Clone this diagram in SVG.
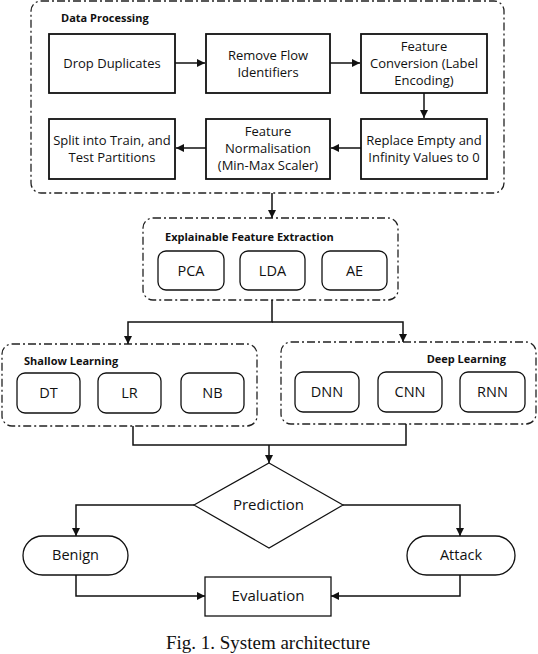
<svg xmlns="http://www.w3.org/2000/svg" width="538" height="654" viewBox="0 0 538 654">
<defs>
<style>
.grp{fill:none;stroke:#222;stroke-width:1.3;stroke-dasharray:8 3 2 3}
.box{fill:#fff;stroke:#111;stroke-width:1.8}
.rbox{fill:#fff;stroke:#111;stroke-width:1.3}
.t{font-family:"Open Sans","Noto Sans",sans-serif;font-size:13px;fill:#111;text-anchor:middle}
.tl{font-family:"Open Sans","Noto Sans",sans-serif;font-size:14.5px;fill:#111;text-anchor:middle}
.tb{font-family:"Open Sans","Noto Sans",sans-serif;font-size:11px;font-weight:bold;fill:#111}
.cap{font-family:"Liberation Serif",serif;font-size:19px;fill:#111;text-anchor:middle}
.c{fill:none;stroke:#111;stroke-width:1.5}
</style>
<marker id="a" markerUnits="userSpaceOnUse" markerWidth="8" markerHeight="8" refX="8" refY="4" orient="auto">
<path d="M0,0 L8,4 L0,8 z" fill="#111"/>
</marker>
</defs>
<rect width="538" height="654" fill="#fff"/>

<g id="data-processing">
<rect class="grp" x="31" y="1" width="473" height="192" rx="10"/>
<text class="tb" x="61" y="22">Data Processing</text>
</g>
<g id="drop-duplicates">
<rect class="box" x="49" y="34" width="126" height="59"/>
<text class="t" x="112" y="68">Drop Duplicates</text>
</g>
<g id="remove-flow">
<rect class="box" x="206" y="34" width="124" height="59"/>
<text class="t" x="268" y="60">Remove Flow</text>
<text class="t" x="268" y="77">Identifiers</text>
</g>
<g id="feature-conversion">
<rect class="box" x="361" y="34" width="126" height="59"/>
<text class="t" x="424" y="51">Feature</text>
<text class="t" x="424" y="68">Conversion (Label</text>
<text class="t" x="424" y="85">Encoding)</text>
</g>
<g id="replace-empty">
<rect class="box" x="361" y="119" width="126" height="60"/>
<text class="t" x="424" y="145">Replace Empty and</text>
<text class="t" x="424" y="162">Infinity Values to 0</text>
</g>
<g id="feature-normalisation">
<rect class="box" x="206" y="119" width="124" height="60"/>
<text class="t" x="268" y="136">Feature</text>
<text class="t" x="268" y="153">Normalisation</text>
<text class="t" x="268" y="170">(Min-Max Scaler)</text>
</g>
<g id="split">
<rect class="box" x="49" y="119" width="126" height="60"/>
<text class="t" x="112" y="145">Split into Train, and</text>
<text class="t" x="112" y="162">Test Partitions</text>
</g>

<g id="explainable">
<rect class="grp" x="143" y="218" width="255" height="82" rx="10"/>
<text class="tb" x="165" y="241">Explainable Feature Extraction</text>
</g>
<g id="pca"><rect class="rbox" x="158" y="251" width="66" height="39" rx="8"/><text class="tl" x="191" y="276">PCA</text></g>
<g id="lda"><rect class="rbox" x="240" y="251" width="65" height="39" rx="8"/><text class="tl" x="272.5" y="276">LDA</text></g>
<g id="ae"><rect class="rbox" x="322" y="251" width="65" height="39" rx="8"/><text class="tl" x="354.5" y="276">AE</text></g>

<g id="shallow">
<rect class="grp" x="2" y="344" width="255" height="82" rx="10"/>
<text class="tb" x="24" y="365">Shallow Learning</text>
</g>
<g id="dt"><rect class="rbox" x="17" y="373" width="63" height="40" rx="8"/><text class="tl" x="48.5" y="398">DT</text></g>
<g id="lr"><rect class="rbox" x="98" y="373" width="63" height="40" rx="8"/><text class="tl" x="129.5" y="398">LR</text></g>
<g id="nb"><rect class="rbox" x="181" y="373" width="63" height="40" rx="8"/><text class="tl" x="212.5" y="398">NB</text></g>

<g id="deep">
<rect class="grp" x="281" y="342" width="255" height="82" rx="10"/>
<text class="tb" x="506" y="363" text-anchor="end">Deep Learning</text>
</g>
<g id="dnn"><rect class="rbox" x="295" y="372" width="64" height="40" rx="8"/><text class="tl" x="327" y="397">DNN</text></g>
<g id="cnn"><rect class="rbox" x="378" y="372" width="64" height="40" rx="8"/><text class="tl" x="410" y="397">CNN</text></g>
<g id="rnn"><rect class="rbox" x="460" y="372" width="65" height="40" rx="8"/><text class="tl" x="492.5" y="397">RNN</text></g>

<g id="prediction">
<path d="M269,463 L343,505 L269,548 L194,505 Z" fill="#fff" stroke="#111" stroke-width="1.2"/>
<text class="tl" x="268.5" y="510" style="font-size:15px">Prediction</text>
</g>
<g id="benign">
<rect class="rbox" x="23" y="536" width="105" height="39" rx="19.5"/>
<text class="tl" x="75.5" y="560" style="font-size:14.5px">Benign</text>
</g>
<g id="attack">
<rect class="rbox" x="407" y="536" width="108" height="39" rx="19.5"/>
<text class="tl" x="461" y="560" style="font-size:14.5px">Attack</text>
</g>
<g id="evaluation">
<rect x="205" y="577" width="126" height="39" fill="#fff" stroke="#111" stroke-width="1.3"/>
<text class="tl" x="268" y="601" style="font-size:15px">Evaluation</text>
</g>

<g id="connectors">
<path class="c" d="M175,63 H205" marker-end="url(#a)"/>
<path class="c" d="M330,63 H360" marker-end="url(#a)"/>
<path class="c" d="M424,93 V118" marker-end="url(#a)"/>
<path class="c" d="M361,148 H331" marker-end="url(#a)"/>
<path class="c" d="M206,148 H176" marker-end="url(#a)"/>
<path class="c" d="M272,193 V218" marker-end="url(#a)"/>
<path class="c" d="M272,300 V322 H128 V344" marker-end="url(#a)"/>
<path class="c" d="M272,322 H403 V342" marker-end="url(#a)"/>
<path class="c" d="M133,426 V445 H406 V424"/>
<path class="c" d="M269,445 V463" marker-end="url(#a)"/>
<path class="c" d="M194,505 H76 V536" marker-end="url(#a)"/>
<path class="c" d="M343,505 H460 V536" marker-end="url(#a)"/>
<path class="c" d="M76,575 V596 H205" marker-end="url(#a)"/>
<path class="c" d="M460,575 V596 H331" marker-end="url(#a)"/>
</g>

<text class="cap" x="268" y="649">Fig. 1. System architecture</text>
</svg>
